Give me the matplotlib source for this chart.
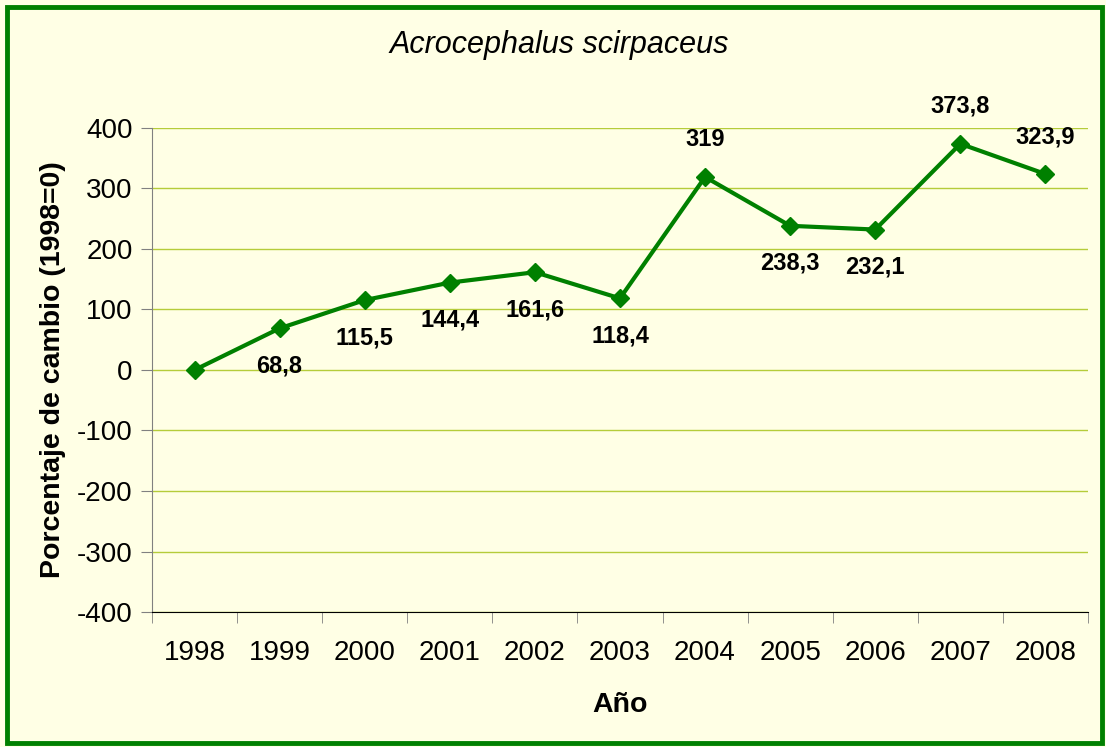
import matplotlib
matplotlib.use('Agg')
import matplotlib.pyplot as plt
from matplotlib.patches import Rectangle
import numpy as np

years = ['1998', '1999', '2000', '2001', '2002', '2003', '2004', '2005', '2006', '2007', '2008']
values = [0, 68.8, 115.5, 144.4, 161.6, 118.4, 319, 238.3, 232.1, 373.8, 323.9]
labels = ['', '68,8', '115,5', '144,4', '161,6', '118,4', '319', '238,3', '232,1', '373,8', '323,9']
label_above = [False, False, False, False, False, False, True, False, False, True, True]

plt.rcParams['font.family'] = ['Liberation Sans', 'DejaVu Sans']
plt.rcParams['axes.unicode_minus'] = False

bg = '#FFFFE5'
fig = plt.figure(figsize=(11.06, 7.47), dpi=100, facecolor=bg)
ax = fig.add_axes([0.1374, 0.1807, 0.8463, 0.648], facecolor=bg)

x = np.arange(len(years))
ax.plot(x, values, color='#008000', lw=3, marker='D', ms=9, zorder=3)

for xi, v, lab, up in zip(x, values, labels, label_above):
    if not lab:
        continue
    dy = 27 if up else -27
    ax.annotate(lab, (xi, v), xytext=(0, dy), textcoords='offset points',
                ha='center', va='center', fontsize=17, fontweight='bold')

ax.set_xlim(-0.5, len(years) - 0.5)
ax.set_ylim(-400, 400)
ax.set_yticks(np.arange(-400, 401, 100))
ax.yaxis.grid(True, color='#B5CC3A', lw=1)
ax.set_axisbelow(True)

ax.set_xticks(x)
ax.set_xticklabels(years)
ax.set_xticks(np.arange(-0.5, len(years), 1), minor=True)
ax.tick_params(axis='x', which='major', length=0, pad=20, labelsize=20)
ax.tick_params(axis='x', which='minor', length=8, direction='out', color='#808080')
ax.tick_params(axis='y', length=8, direction='out', labelsize=20, pad=6, color='#808080')

for s in ['top', 'right']:
    ax.spines[s].set_visible(False)
ax.spines['left'].set_color('#808080')
ax.spines['bottom'].set_color('black')

ax.set_xlabel('Año', fontsize=20.5, fontweight='bold', labelpad=19)
ax.set_ylabel('Porcentaje de cambio (1998=0)', fontsize=20.5, fontweight='bold', labelpad=8)
fig.text(0.506, 0.94, 'Acrocephalus scirpaceus', ha='center', va='center',
         fontsize=22, style='italic')

fig.patches.append(Rectangle((0.006, 0.006), 0.990, 0.985, transform=fig.transFigure,
                             fill=False, edgecolor='#008000', lw=3.5))

fig.savefig('out.png', dpi=100, facecolor=bg)
